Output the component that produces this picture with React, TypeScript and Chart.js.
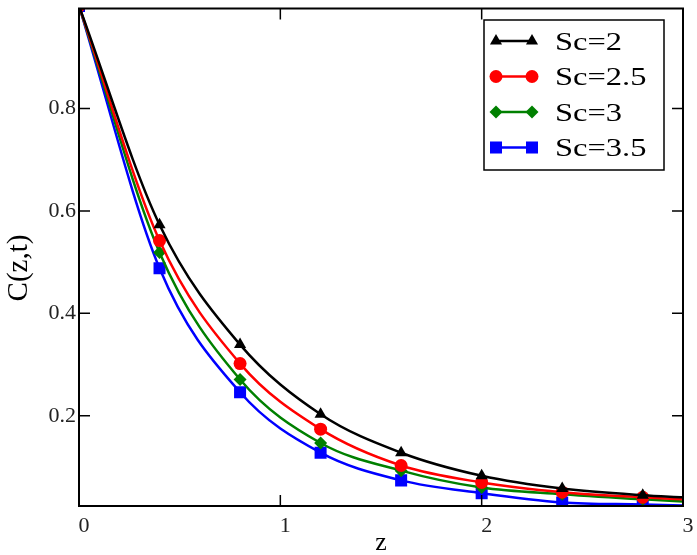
import React, { useEffect, useRef } from 'react';
import { Chart, registerables } from 'chart.js';
Chart.register(...registerables);

const zValues = [0, 0.4, 0.8, 1.2, 1.6, 2.0, 2.4, 2.8, 3.0];
const sc2 = [1.0, 0.573, 0.339, 0.203, 0.128, 0.083, 0.058, 0.045, 0.041];
const sc25 = [1.0, 0.542, 0.302, 0.174, 0.103, 0.07, 0.051, 0.041, 0.037];
const sc3 = [1.0, 0.519, 0.271, 0.147, 0.093, 0.06, 0.047, 0.037, 0.033];
const sc35 = [1.0, 0.488, 0.246, 0.128, 0.074, 0.049, 0.031, 0.027, 0.025];
const seriesLabels = ['Sc=2', 'Sc=2.5', 'Sc=3', 'Sc=3.5'];
const xTicks = [0, 1, 2, 3];
const yTicks = [0.2, 0.4, 0.6, 0.8];
const xTitle = 'z';
const yTitle = 'C(z,t)';

const colors = ['#000000', '#ff0000', '#008000', '#0000ff'];
const styles = ['triangle', 'circle', 'rectRot', 'rect'];
const radii = [7, 6.5, 6.5, 8.5];

function drawMarker(ctx: CanvasRenderingContext2D, style: string, x: number, y: number, r: number, color: string) {
  ctx.save();
  ctx.fillStyle = color;
  ctx.beginPath();
  if (style === 'circle') {
    ctx.arc(x, y, r, 0, Math.PI * 2);
  } else if (style === 'triangle') {
    const a = -Math.PI / 2;
    for (let i = 0; i < 3; i++) {
      const t = a + (i * 2 * Math.PI) / 3;
      const px = x + Math.cos(t) * r;
      const py = y + Math.sin(t) * r;
      if (i === 0) ctx.moveTo(px, py); else ctx.lineTo(px, py);
    }
    ctx.closePath();
  } else if (style === 'rectRot') {
    ctx.moveTo(x, y - r);
    ctx.lineTo(x + r, y);
    ctx.lineTo(x, y + r);
    ctx.lineTo(x - r, y);
    ctx.closePath();
  } else {
    const s = r * Math.SQRT1_2;
    ctx.rect(x - s, y - s, 2 * s, 2 * s);
  }
  ctx.fill();
  ctx.restore();
}

const framePlugin = {
  id: 'framePlugin',
  afterDraw(chart: any) {
    const { ctx, chartArea: a, scales } = chart;
    const xs = scales.x;
    const ys = scales.y;
    ctx.save();
    ctx.strokeStyle = '#000';
    ctx.lineWidth = 2;
    ctx.strokeRect(a.left, a.top, a.right - a.left, a.bottom - a.top);
    ctx.lineWidth = 1.5;
    const tl = 11;
    ctx.beginPath();
    yTicks.forEach((v) => {
      const y = ys.getPixelForValue(v);
      ctx.moveTo(a.left, y); ctx.lineTo(a.left + tl, y);
      ctx.moveTo(a.right, y); ctx.lineTo(a.right - tl, y);
    });
    xTicks.forEach((v) => {
      const x = xs.getPixelForValue(v);
      ctx.moveTo(x, a.bottom); ctx.lineTo(x, a.bottom - tl);
      ctx.moveTo(x, a.top); ctx.lineTo(x, a.top + tl);
    });
    ctx.stroke();

    // legend
    const bx = 484, by = 20, bw = 180, bh = 150;
    ctx.fillStyle = '#fff';
    ctx.fillRect(bx, by, bw, bh);
    ctx.lineWidth = 1.5;
    ctx.strokeStyle = '#000';
    ctx.strokeRect(bx, by, bw, bh);
    seriesLabels.forEach((lab, i) => {
      const y = 41 + i * 35.5;
      ctx.strokeStyle = colors[i];
      ctx.lineWidth = 2.5;
      ctx.beginPath();
      ctx.moveTo(496, y); ctx.lineTo(532, y);
      ctx.stroke();
      drawMarker(ctx, styles[i], 496, y, radii[i], colors[i]);
      drawMarker(ctx, styles[i], 532, y, radii[i], colors[i]);
      ctx.save();
      ctx.translate(555, y + 8.6);
      ctx.scale(1.25, 1);
      ctx.fillStyle = '#000';
      ctx.font = '26px "Liberation Serif", "Times New Roman", serif';
      ctx.textBaseline = 'alphabetic';
      ctx.textAlign = 'left';
      ctx.fillText(lab, 0, 0);
      ctx.restore();
    });

    // axis titles
    ctx.fillStyle = '#000';
    ctx.font = '26px "Liberation Serif", "Times New Roman", serif';
    ctx.textAlign = 'center';
    ctx.textBaseline = 'alphabetic';
    ctx.fillText(xTitle, (a.left + a.right) / 2, 550);
    ctx.save();
    ctx.translate(27, 268);
    ctx.rotate(-Math.PI / 2);
    ctx.font = '29px "Liberation Serif", "Times New Roman", serif';
    ctx.fillText(yTitle, 0, 0);
    ctx.restore();
    ctx.restore();
  },
};

export default function App() {
  const ref = useRef<HTMLCanvasElement>(null);
  useEffect(() => {
    document.body.style.margin = '0';
    const seriesData = [sc2, sc25, sc3, sc35];
    const chart = new Chart(ref.current!, {
      type: 'line',
      data: {
        datasets: seriesData.map((vals, i) => ({
          label: seriesLabels[i],
          data: vals.map((v, j) => ({ x: zValues[j], y: v })),
          borderColor: colors[i],
          backgroundColor: colors[i],
          borderWidth: 2.5,
          pointStyle: styles[i] as any,
          pointRadius: (c: any) => (c.dataIndex < zValues.length - 1 ? radii[i] : 0),
          pointBorderWidth: 0,
          cubicInterpolationMode: 'monotone' as const,
          clip: 0,
        })),
      },
      options: {
        animation: false,
        responsive: false,
        events: [],
        layout: { padding: { top: 4, right: 14, left: 0, bottom: 0 } },
        plugins: { legend: { display: false }, tooltip: { enabled: false } },
        scales: {
          x: {
            type: 'linear',
            min: 0,
            max: 3,
            grid: { display: false, drawTicks: false },
            border: { display: false },
            afterBuildTicks: (s: any) => { s.ticks = xTicks.map((v) => ({ value: v })); },
            afterFit: (s: any) => { s.height = 49; s.paddingLeft = 0; s.paddingRight = 0; },
            ticks: {
              padding: 7,
              labelOffset: 5,
              color: '#222',
              font: { family: 'Liberation Serif', size: 22 },
              callback: (v: any) => String(v),
            },
          },
          y: {
            type: 'linear',
            min: 0.024,
            max: 0.995,
            grid: { display: false, drawTicks: false },
            border: { display: false },
            afterBuildTicks: (s: any) => { s.ticks = yTicks.map((v) => ({ value: v })); },
            afterFit: (s: any) => { s.width = 79; s.paddingTop = 0; s.paddingBottom = 0; },
            ticks: {
              padding: 3,
              color: '#222',
              font: { family: 'Liberation Serif', size: 22 },
              callback: (v: any) => String(v),
            },
          },
        },
      },
      plugins: [framePlugin],
    });
    return () => chart.destroy();
  }, []);
  return <canvas ref={ref} width={697} height={555} style={{ display: 'block' }} />;
}
